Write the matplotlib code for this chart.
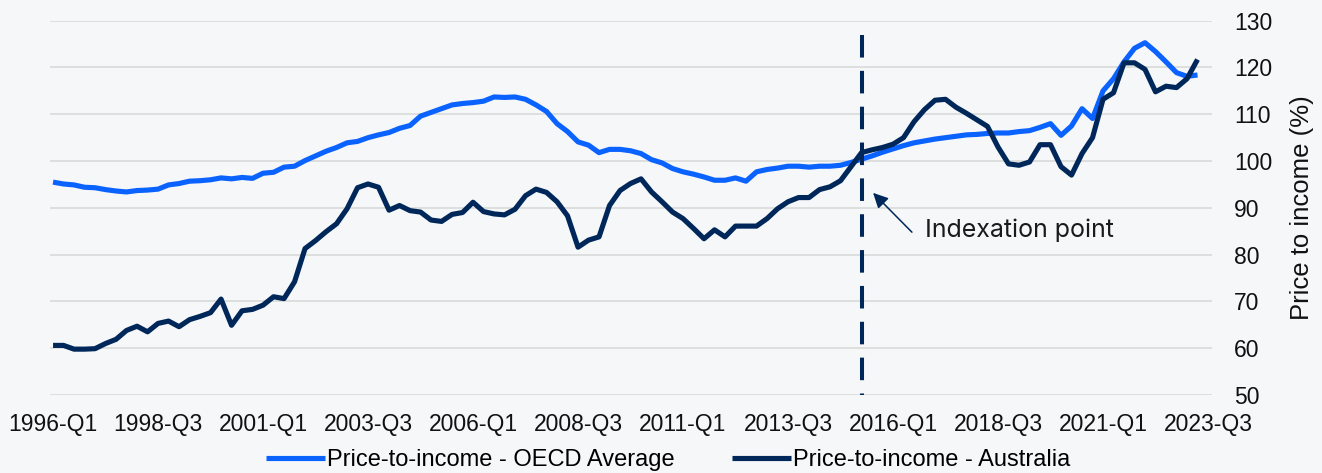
import matplotlib
matplotlib.use("Agg")
import matplotlib.pyplot as plt
import numpy as np

# ---------------- data ----------------
QUARTERS = [f"{y}-Q{q}" for y in range(1996, 2024) for q in range(1, 5)][:111]  # 1996-Q1 .. 2023-Q3

TICK_LABELS = ["1996-Q1", "1998-Q3", "2001-Q1", "2003-Q3", "2006-Q1", "2008-Q3",
               "2011-Q1", "2013-Q3", "2016-Q1", "2018-Q3", "2021-Q1", "2023-Q3"]

OECD = [
    95.5, 95.1, 94.9, 94.4, 94.3, 93.9, 93.6, 93.4, 93.7, 93.8,
    94.0, 94.9, 95.2, 95.7, 95.8, 96.0, 96.4, 96.2, 96.5, 96.3,
    97.4, 97.6, 98.7, 98.9, 100.1, 101.1, 102.1, 102.9, 103.9, 104.2,
    105.0, 105.6, 106.1, 107.0, 107.6, 109.6, 110.4, 111.2, 112.0, 112.3,
    112.5, 112.8, 113.7, 113.6, 113.7, 113.2, 112.0, 110.6, 108.0, 106.3,
    104.1, 103.4, 101.8, 102.5, 102.5, 102.2, 101.6, 100.3, 99.6, 98.4,
    97.7, 97.2, 96.6, 95.9, 95.9, 96.4, 95.7, 97.7, 98.2, 98.5,
    98.9, 98.9, 98.7, 98.9, 98.9, 99.1, 99.7, 100.4, 101.1, 101.9,
    102.6, 103.3, 103.9, 104.3, 104.7, 105.0, 105.3, 105.6, 105.7, 105.9,
    106.0, 106.0, 106.3, 106.5, 107.2, 108.0, 105.5, 107.5, 111.2, 109.1,
    115.0, 117.6, 121.2, 124.1, 125.3, 123.4, 121.2, 118.9, 118.1, 118.4,
]

AUSTRALIA = [
    60.6, 60.6, 59.8, 59.8, 59.9, 61.0, 61.9, 63.8, 64.7, 63.5,
    65.3, 65.8, 64.6, 66.1, 66.8, 67.6, 70.5, 64.9, 68.0, 68.3,
    69.2, 71.0, 70.6, 74.2, 81.3, 83.0, 84.9, 86.6, 89.8, 94.3,
    95.1, 94.4, 89.5, 90.5, 89.4, 89.1, 87.4, 87.1, 88.6, 89.0,
    91.2, 89.2, 88.7, 88.5, 89.7, 92.6, 94.0, 93.3, 91.3, 88.3,
    81.6, 83.1, 83.8, 90.5, 93.7, 95.2, 96.2, 93.4, 91.3, 89.1,
    87.7, 85.6, 83.4, 85.3, 83.8, 86.1, 86.1, 86.1, 87.7, 89.8,
    91.3, 92.2, 92.2, 93.9, 94.5, 95.8, 98.8, 101.8, 102.4, 102.9,
    103.6, 105.0, 108.4, 111.0, 113.0, 113.2, 111.5, 110.2, 108.8, 107.4,
    103.0, 99.4, 99.1, 99.8, 103.5, 103.5, 98.8, 97.0, 101.6, 105.0,
    113.2, 114.6, 121.0, 121.0, 119.6, 114.8, 116.0, 115.7, 117.6, 121.7,
]

INDEX_QUARTER = "2015-Q2"
Y_TICKS = [50, 60, 70, 80, 90, 100, 110, 120, 130]

# ---------------- style ----------------
BG = "#f6f7f9"
BLUE = "#0a62ff"
NAVY = "#00275a"
GRID = "#d9d9d9"

plt.rcParams["font.family"] = ["Liberation Sans", "DejaVu Sans"]

fig = plt.figure(figsize=(13.22, 4.73), dpi=100, facecolor=BG)
ax = fig.add_axes([50 / 1322, 1 - 395 / 473, 1162 / 1322, 374.3 / 473])
ax.set_facecolor(BG)

x_o = np.arange(len(OECD))
x_a = np.arange(len(AUSTRALIA))
l1, = ax.plot(x_o, OECD, color=BLUE, lw=3.7, solid_joinstyle="round",
              solid_capstyle="butt", label="Price-to-income - OECD Average", zorder=3)
l2, = ax.plot(x_a, AUSTRALIA, color=NAVY, lw=3.7, solid_joinstyle="round",
              solid_capstyle="butt", label="Price-to-income - Australia", zorder=4)

xi = QUARTERS.index(INDEX_QUARTER)
ax.plot([xi, xi], [126.9, 50], color=NAVY, lw=2.9, dashes=(5.6, 3.3),
        solid_capstyle="butt", dash_capstyle="butt", zorder=5)

ax.annotate("", xy=(xi + 1.1, 93.2), xytext=(xi + 4.8, 84.8),
            arrowprops=dict(arrowstyle="-|>,head_length=0.9,head_width=0.45",
                            color=NAVY, lw=1.1, shrinkA=0, shrinkB=0), zorder=6)
ax.text(xi + 6.0, 85.3, "Indexation point", fontsize=18, color="#1a1a1a",
        family=["Inter", "DejaVu Sans"], va="center", ha="left")

ax.set_xlim(-0.29, 110.38)
ax.set_ylim(50, 130)
ax.set_yticks(Y_TICKS)
ax.set_xticks([QUARTERS.index(t) for t in TICK_LABELS])
ax.set_xticklabels(TICK_LABELS)
ax.yaxis.tick_right()
ax.yaxis.set_label_position("right")
ax.tick_params(axis="both", length=0, labelsize=16.5, colors="#111111")
ax.tick_params(axis="y", pad=16)
ax.tick_params(axis="x", pad=13)
ax.grid(axis="y", color=GRID, lw=1.2, zorder=0)
ax.set_axisbelow(True)
for s in ax.spines.values():
    s.set_visible(False)

ax.set_ylabel("Price to income (%)", fontsize=18.5, color="#111111", rotation=90)
ax.yaxis.set_label_coords((1290 - 50) / 1162, 0.5)

fig.legend(handles=[l1, l2], loc="center", bbox_to_anchor=(668 / 1322, 0.027),
           ncol=2, frameon=False, fontsize=17, handlelength=2.5,
           handletextpad=0.1, columnspacing=2.4, borderaxespad=0)

fig.savefig("out.png", dpi=100, facecolor=BG)
